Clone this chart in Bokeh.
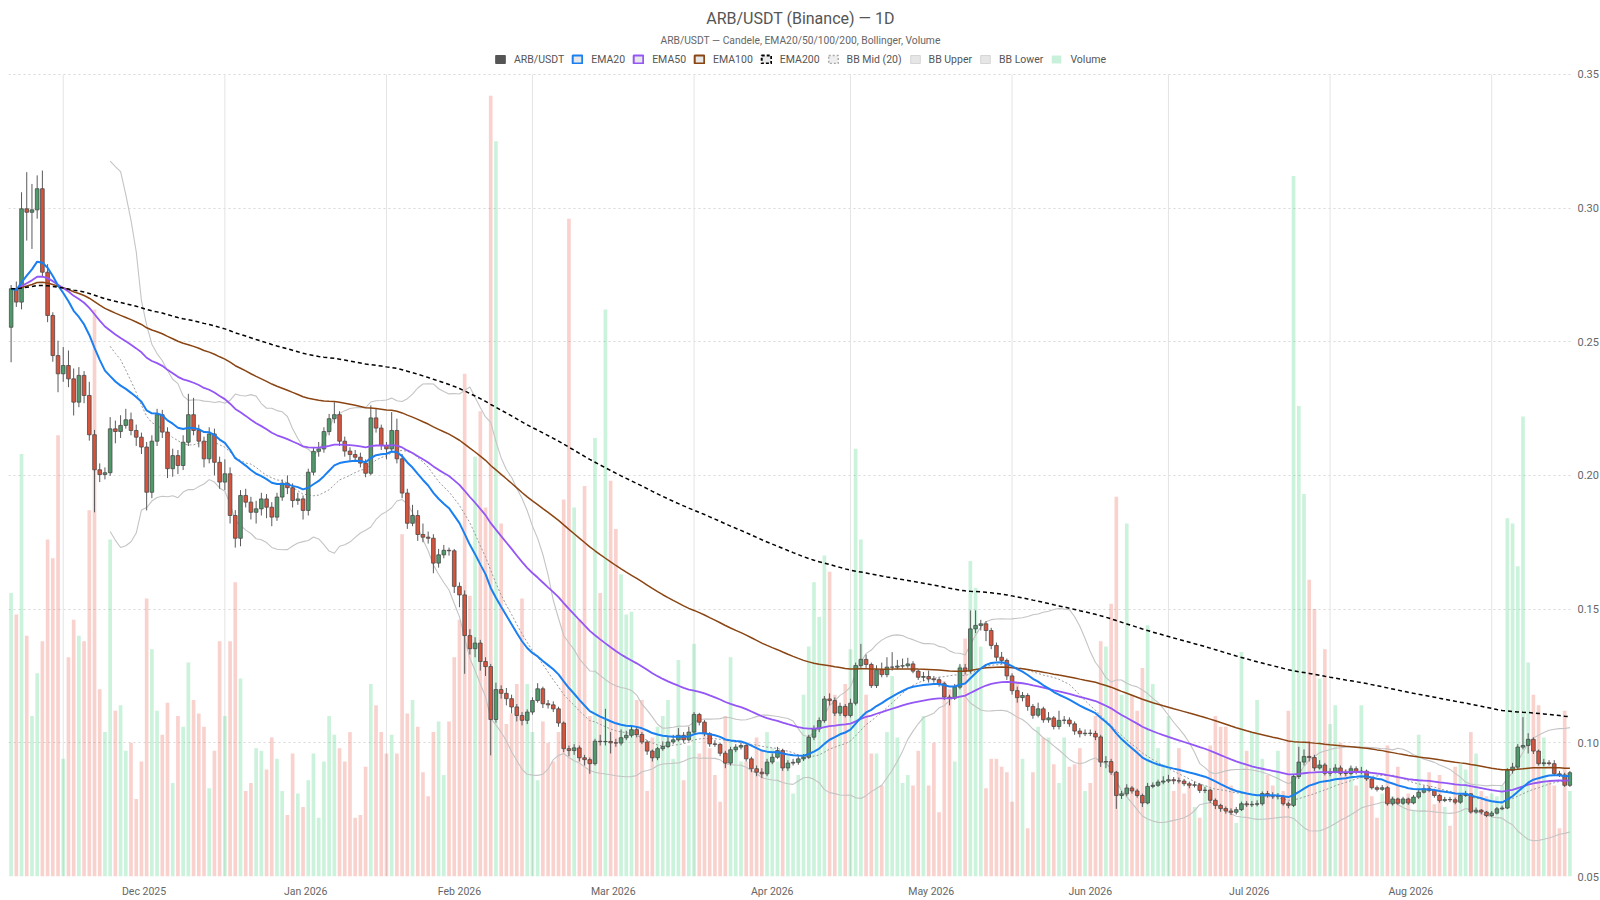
import pandas as pd
from bokeh.plotting import figure
from bokeh.models import (ColumnDataSource, Range1d, FixedTicker, NumeralTickFormatter,
                          DatetimeTickFormatter, Legend, LegendItem, Label)
from bokeh.embed import file_html
from bokeh.resources import INLINE

# ---------------- data ----------------
start_date = "2025-11-21"
title_text = "ARB/USDT (Binance) — 1D"
subtitle_text = "ARB/USDT — Candele, EMA20/50/100/200, Bollinger, Volume"
series_names = ["ARB/USDT", "EMA20", "EMA50", "EMA100", "EMA200",
                "BB Mid (20)", "BB Upper", "BB Lower", "Volume"]
price_ticks = [0.05, 0.10, 0.15, 0.20, 0.25, 0.30, 0.35]

open_ = [
 0.2554,0.2698,0.2648,0.2997,0.2984,0.2993,0.3072,0.2760,0.2598,0.2448,
 0.2380,0.2411,0.2361,0.2274,0.2374,0.2299,0.2152,0.2021,0.2003,0.2010,
 0.2174,0.2164,0.2187,0.2208,0.2168,0.2143,0.2106,0.1937,0.2128,0.2227,
 0.2162,0.2025,0.2074,0.2037,0.2124,0.2227,0.2168,0.2128,0.2062,0.2155,
 0.2049,0.1975,0.2006,0.1850,0.1765,0.1925,0.1900,0.1862,0.1875,0.1912,
 0.1881,0.1844,0.1919,0.1971,0.1954,0.1906,0.1912,0.1869,0.2012,0.2090,
 0.2099,0.2164,0.2212,0.2227,0.2128,0.2091,0.2078,0.2068,0.2046,0.2008,
 0.2215,0.2177,0.2112,0.2099,0.2168,0.2062,0.1934,0.1821,0.1850,0.1779,
 0.1769,0.1765,0.1672,0.1703,0.1720,0.1718,0.1585,0.1553,0.1401,0.1352,
 0.1373,0.1304,0.1285,0.1087,0.1199,0.1185,0.1165,0.1134,0.1102,0.1084,
 0.1115,0.1158,0.1202,0.1146,0.1142,0.1127,0.1074,0.0978,0.0971,0.0981,
 0.0944,0.0937,0.0922,0.1006,0.1004,0.1005,0.1000,0.0999,0.1019,0.1028,
 0.1049,0.1031,0.1003,0.0969,0.0944,0.0978,0.0986,0.1003,0.1011,0.1028,
 0.1011,0.1040,0.1106,0.1077,0.1034,0.0996,0.0994,0.0961,0.0924,0.0974,
 0.0984,0.0990,0.0940,0.0903,0.0890,0.0884,0.0928,0.0946,0.0971,0.0906,
 0.0924,0.0927,0.0940,0.0946,0.1021,0.1052,0.1083,0.1164,0.1158,0.1111,
 0.1136,0.1102,0.1148,0.1289,0.1312,0.1293,0.1214,0.1273,0.1255,0.1283,
 0.1283,0.1287,0.1288,0.1295,0.1268,0.1245,0.1248,0.1239,0.1236,0.1221,
 0.1171,0.1167,0.1208,0.1280,0.1268,0.1426,0.1439,0.1445,0.1420,0.1364,
 0.1320,0.1308,0.1250,0.1195,0.1169,0.1177,0.1136,0.1103,0.1127,0.1086,
 0.1093,0.1061,0.1084,0.1085,0.1071,0.1044,0.1034,0.1036,0.1035,0.1022,
 0.0928,0.0930,0.0890,0.0803,0.0809,0.0831,0.0820,0.0803,0.0775,0.0837,
 0.0841,0.0853,0.0857,0.0862,0.0858,0.0857,0.0847,0.0841,0.0843,0.0822,
 0.0823,0.0785,0.0766,0.0754,0.0745,0.0740,0.0750,0.0772,0.0768,0.0770,
 0.0772,0.0810,0.0803,0.0800,0.0800,0.0772,0.0766,0.0874,0.0928,0.0949,
 0.0945,0.0906,0.0917,0.0886,0.0891,0.0906,0.0886,0.0885,0.0903,0.0890,
 0.0894,0.0865,0.0832,0.0826,0.0832,0.0772,0.0790,0.0774,0.0790,0.0775,
 0.0797,0.0815,0.0828,0.0822,0.0803,0.0784,0.0788,0.0787,0.0778,0.0803,
 0.0809,0.0741,0.0748,0.0741,0.0728,0.0737,0.0753,0.0756,0.0897,0.0909,
 0.0984,0.0990,0.1013,0.0969,0.0922,0.0925,0.0922,0.0884,0.0880,0.0841]

high = [
 0.2712,0.2725,0.3059,0.3134,0.3090,0.3122,0.3140,0.2790,0.2610,0.2504,
 0.2480,0.2467,0.2400,0.2405,0.2390,0.2350,0.2170,0.2045,0.2030,0.2218,
 0.2205,0.2225,0.2249,0.2235,0.2190,0.2160,0.2125,0.2150,0.2249,0.2245,
 0.2180,0.2100,0.2095,0.2150,0.2305,0.2290,0.2190,0.2145,0.2180,0.2175,
 0.2070,0.2060,0.2030,0.1870,0.1945,0.1950,0.1920,0.1905,0.1935,0.1930,
 0.1900,0.1935,0.1985,0.2000,0.1970,0.1935,0.1925,0.2025,0.2105,0.2125,
 0.2180,0.2230,0.2274,0.2240,0.2145,0.2105,0.2095,0.2085,0.2060,0.2262,
 0.2250,0.2190,0.2125,0.2237,0.2212,0.2080,0.1950,0.1890,0.1870,0.1820,
 0.1790,0.1780,0.1725,0.1740,0.1730,0.1725,0.1600,0.1570,0.1425,0.1395,
 0.1385,0.1320,0.1295,0.1225,0.1215,0.1205,0.1180,0.1145,0.1115,0.1125,
 0.1170,0.1223,0.1210,0.1160,0.1155,0.1135,0.1080,0.0990,0.0995,0.0990,
 0.0955,0.0945,0.1015,0.1030,0.1127,0.1040,0.1015,0.1050,0.1045,0.1062,
 0.1060,0.1040,0.1010,0.0975,0.0985,0.1005,0.1025,0.1030,0.1055,0.1040,
 0.1060,0.1115,0.1112,0.1085,0.1040,0.1010,0.1000,0.0970,0.0985,0.0995,
 0.1000,0.0998,0.0948,0.0915,0.0905,0.0940,0.0960,0.0985,0.0978,0.0935,
 0.0940,0.0950,0.0958,0.1030,0.1065,0.1095,0.1175,0.1185,0.1170,0.1150,
 0.1145,0.1165,0.1300,0.1370,0.1330,0.1300,0.1290,0.1300,0.1320,0.1339,
 0.1310,0.1315,0.1318,0.1305,0.1275,0.1265,0.1270,0.1250,0.1245,0.1228,
 0.1180,0.1220,0.1295,0.1295,0.1495,0.1495,0.1460,0.1455,0.1430,0.1375,
 0.1340,0.1315,0.1260,0.1210,0.1190,0.1185,0.1145,0.1150,0.1135,0.1115,
 0.1100,0.1120,0.1100,0.1095,0.1080,0.1055,0.1050,0.1050,0.1045,0.1030,
 0.0950,0.0940,0.0895,0.0820,0.0845,0.0838,0.0828,0.0810,0.0850,0.0852,
 0.0862,0.0875,0.0880,0.0872,0.0870,0.0865,0.0855,0.0855,0.0850,0.0835,
 0.0828,0.0792,0.0772,0.0762,0.0755,0.0760,0.0780,0.0782,0.0782,0.0785,
 0.0818,0.0820,0.0815,0.0812,0.0805,0.0780,0.0882,0.0985,0.0975,0.1005,
 0.0955,0.0935,0.0925,0.0905,0.0920,0.0915,0.0900,0.0915,0.0912,0.0910,
 0.0900,0.0870,0.0840,0.0842,0.0838,0.0798,0.0795,0.0798,0.0795,0.0805,
 0.0825,0.0840,0.0838,0.0828,0.0808,0.0798,0.0798,0.0795,0.0812,0.0820,
 0.0812,0.0758,0.0752,0.0745,0.0745,0.0760,0.0765,0.0905,0.0925,0.0995,
 0.1096,0.1036,0.1020,0.0975,0.0940,0.0935,0.0935,0.0895,0.0888,0.0895]

low = [
 0.2423,0.2630,0.2621,0.2878,0.2847,0.2960,0.2745,0.2573,0.2425,0.2311,
 0.2350,0.2330,0.2224,0.2255,0.2270,0.2130,0.1862,0.1975,0.1985,0.1998,
 0.2120,0.2140,0.2175,0.2150,0.2110,0.2080,0.1869,0.1915,0.2110,0.2140,
 0.1990,0.1995,0.2005,0.2020,0.2110,0.2150,0.2105,0.2030,0.2045,0.2000,
 0.1950,0.1945,0.1820,0.1730,0.1735,0.1880,0.1835,0.1820,0.1850,0.1840,
 0.1810,0.1830,0.1905,0.1930,0.1880,0.1890,0.1835,0.1850,0.2000,0.2070,
 0.2085,0.2150,0.2195,0.2110,0.2070,0.2055,0.2050,0.2030,0.1993,0.2000,
 0.2160,0.2095,0.2060,0.2085,0.2045,0.1915,0.1800,0.1810,0.1755,0.1750,
 0.1745,0.1634,0.1655,0.1690,0.1700,0.1560,0.1507,0.1258,0.1330,0.1320,
 0.1270,0.1250,0.0953,0.1075,0.1165,0.1140,0.1110,0.1080,0.1065,0.1070,
 0.1105,0.1150,0.1130,0.1128,0.1115,0.1060,0.0965,0.0950,0.0955,0.0930,
 0.0915,0.0884,0.0915,0.0990,0.0990,0.0960,0.0985,0.0990,0.1010,0.1020,
 0.1020,0.0995,0.0955,0.0930,0.0935,0.0970,0.0980,0.0995,0.1005,0.1000,
 0.1005,0.1035,0.1065,0.1025,0.0985,0.0985,0.0950,0.0905,0.0915,0.0965,
 0.0975,0.0930,0.0890,0.0875,0.0868,0.0875,0.0920,0.0940,0.0895,0.0895,
 0.0915,0.0918,0.0932,0.0940,0.1010,0.1040,0.1075,0.1140,0.1100,0.1100,
 0.1095,0.1095,0.1140,0.1280,0.1280,0.1205,0.1205,0.1245,0.1245,0.1270,
 0.1275,0.1278,0.1280,0.1260,0.1235,0.1230,0.1225,0.1225,0.1210,0.1160,
 0.1140,0.1160,0.1200,0.1255,0.1260,0.1410,0.1420,0.1380,0.1350,0.1305,
 0.1295,0.1235,0.1180,0.1150,0.1155,0.1120,0.1090,0.1095,0.1075,0.1075,
 0.1050,0.1050,0.1070,0.1060,0.1030,0.1020,0.1025,0.1025,0.1010,0.0910,
 0.0905,0.0880,0.0753,0.0790,0.0800,0.0810,0.0795,0.0760,0.0770,0.0830,
 0.0835,0.0845,0.0850,0.0845,0.0848,0.0838,0.0830,0.0833,0.0812,0.0812,
 0.0775,0.0752,0.0742,0.0735,0.0730,0.0732,0.0745,0.0760,0.0760,0.0762,
 0.0765,0.0795,0.0790,0.0788,0.0765,0.0755,0.0760,0.0865,0.0915,0.0930,
 0.0895,0.0900,0.0878,0.0875,0.0885,0.0878,0.0875,0.0878,0.0882,0.0882,
 0.0858,0.0825,0.0818,0.0820,0.0765,0.0765,0.0768,0.0768,0.0768,0.0770,
 0.0790,0.0810,0.0815,0.0795,0.0776,0.0778,0.0778,0.0770,0.0772,0.0798,
 0.0735,0.0735,0.0732,0.0722,0.0722,0.0732,0.0748,0.0752,0.0885,0.0900,
 0.0975,0.0960,0.0958,0.0915,0.0912,0.0915,0.0878,0.0872,0.0835,0.0835]

close = [
 0.2698,0.2648,0.2997,0.2984,0.2993,0.3072,0.2760,0.2598,0.2448,0.2380,
 0.2411,0.2361,0.2274,0.2374,0.2299,0.2152,0.2021,0.2003,0.2010,0.2174,
 0.2164,0.2187,0.2208,0.2168,0.2143,0.2106,0.1937,0.2128,0.2227,0.2162,
 0.2025,0.2074,0.2037,0.2124,0.2227,0.2168,0.2128,0.2062,0.2155,0.2049,
 0.1975,0.2006,0.1850,0.1765,0.1925,0.1900,0.1862,0.1875,0.1912,0.1881,
 0.1844,0.1919,0.1971,0.1954,0.1906,0.1912,0.1869,0.2012,0.2090,0.2099,
 0.2164,0.2212,0.2227,0.2128,0.2091,0.2078,0.2068,0.2046,0.2008,0.2215,
 0.2177,0.2112,0.2099,0.2168,0.2062,0.1934,0.1821,0.1850,0.1779,0.1769,
 0.1765,0.1672,0.1703,0.1720,0.1718,0.1585,0.1553,0.1401,0.1352,0.1373,
 0.1304,0.1285,0.1087,0.1199,0.1185,0.1165,0.1134,0.1102,0.1084,0.1115,
 0.1158,0.1202,0.1146,0.1142,0.1127,0.1074,0.0978,0.0971,0.0981,0.0944,
 0.0937,0.0922,0.1006,0.1004,0.1005,0.1000,0.0999,0.1019,0.1028,0.1049,
 0.1031,0.1003,0.0969,0.0944,0.0978,0.0986,0.1003,0.1011,0.1028,0.1011,
 0.1040,0.1106,0.1077,0.1034,0.0996,0.0994,0.0961,0.0924,0.0974,0.0984,
 0.0990,0.0940,0.0903,0.0890,0.0884,0.0928,0.0946,0.0971,0.0906,0.0924,
 0.0927,0.0940,0.0946,0.1021,0.1052,0.1083,0.1164,0.1158,0.1111,0.1136,
 0.1102,0.1148,0.1289,0.1312,0.1293,0.1214,0.1273,0.1255,0.1283,0.1283,
 0.1287,0.1288,0.1295,0.1268,0.1245,0.1248,0.1239,0.1236,0.1221,0.1171,
 0.1167,0.1208,0.1280,0.1268,0.1426,0.1439,0.1445,0.1420,0.1364,0.1320,
 0.1308,0.1250,0.1195,0.1169,0.1177,0.1136,0.1103,0.1127,0.1086,0.1093,
 0.1061,0.1084,0.1085,0.1071,0.1044,0.1034,0.1036,0.1035,0.1022,0.0928,
 0.0930,0.0890,0.0803,0.0809,0.0831,0.0820,0.0803,0.0775,0.0837,0.0841,
 0.0853,0.0857,0.0862,0.0858,0.0857,0.0847,0.0841,0.0843,0.0822,0.0823,
 0.0785,0.0766,0.0754,0.0745,0.0740,0.0750,0.0772,0.0768,0.0770,0.0772,
 0.0810,0.0803,0.0800,0.0800,0.0772,0.0766,0.0874,0.0928,0.0949,0.0945,
 0.0906,0.0917,0.0886,0.0891,0.0906,0.0886,0.0885,0.0903,0.0890,0.0894,
 0.0865,0.0832,0.0826,0.0832,0.0772,0.0790,0.0774,0.0790,0.0775,0.0797,
 0.0815,0.0828,0.0822,0.0803,0.0784,0.0788,0.0787,0.0778,0.0803,0.0809,
 0.0741,0.0748,0.0741,0.0728,0.0737,0.0753,0.0756,0.0897,0.0909,0.0984,
 0.0990,0.1013,0.0969,0.0922,0.0925,0.0922,0.0884,0.0880,0.0841,0.0888]

# daily volume, millions of ARB
volume_m = [
 106,98,158,90,60,76,88,126,119,165,
 44,82,96,90,88,137,212,70,54,126,
 62,64,47,50,29,43,104,85,62,53,
 65,35,60,56,80,66,61,56,33,47,
 88,60,88,110,74,32,35,48,47,40,
 52,44,32,23,46,31,26,36,46,22,
 43,60,53,48,43,54,22,23,41,72,
 64,54,46,53,46,128,61,66,56,39,
 30,54,58,38,58,82,96,188,105,157,
 174,138,292,275,132,57,61,72,104,72,
 54,36,58,50,43,54,141,246,138,96,
 146,60,164,106,212,148,130,113,98,99,
 66,66,32,52,56,60,66,44,81,36,
 49,87,46,58,48,38,28,60,82,48,
 43,43,40,52,47,54,48,43,41,45,
 31,38,68,86,110,97,120,114,68,64,
 72,85,160,126,68,46,46,34,54,75,
 52,35,38,34,47,60,34,50,24,73,
 70,43,79,89,118,108,86,33,44,44,
 41,39,28,73,44,18,39,56,52,52,
 42,35,52,41,42,48,32,35,60,88,
 86,102,142,68,132,68,62,78,94,72,
 48,42,60,32,48,31,34,26,22,34,
 49,60,56,56,34,20,84,47,54,66,
 44,38,34,47,32,62,262,176,143,111,
 100,74,85,57,64,50,40,41,34,64,
 39,30,22,31,49,30,41,28,31,25,
 53,31,39,27,38,26,19,41,42,40,
 54,46,32,30,31,30,34,134,132,116,
 172,80,68,64,52,36,34,18,62,32]

# ---------------- derived indicators ----------------
dates = pd.date_range(start_date, periods=len(close), freq="D")
df = pd.DataFrame(dict(date=dates, open=open_, high=high, low=low,
                       close=close, volume=volume_m))
for n in (20, 50, 100, 200):
    df[f"ema{n}"] = df["close"].ewm(span=n, adjust=False).mean()
df["bb_mid"] = df["close"].rolling(20).mean()
sd = df["close"].rolling(20).std()
df["bb_up"] = df["bb_mid"] + 2 * sd
df["bb_lo"] = df["bb_mid"] - 2 * sd
up = df["close"] >= df["open"]
df["body_top"] = df[["open", "close"]].max(axis=1)
df["body_bot"] = df[["open", "close"]].min(axis=1)
df["body_color"] = ["#4f9a6b" if u else "#d6533c" for u in up]
df["vol_color"] = ["#2ecc71" if u else "#e74c3c" for u in up]
src = ColumnDataSource(df)

month_starts = pd.date_range(dates[0] + pd.offsets.MonthBegin(1), dates[-1], freq="MS")
label_ticks = [a + (b - a) / 2 for a, b in zip(month_starts[:-1], month_starts[1:])]
to_ms = lambda t: t.value / 1e6

# ---------------- layout (canvas starts at page 0,0) ----------------
LEFT_PX, FRAME_W, FRAME_H, HEADER_PX = 8, 1564, 876, 73.8
plot_px = FRAME_H - HEADER_PX
y_lo, y_hi = price_ticks[0], price_ticks[-1]
y_top = y_hi + (y_hi - y_lo) * HEADER_PX / plot_px
px_per_unit = plot_px / (y_hi - y_lo)
day = pd.Timedelta(days=1)
x0, x1 = dates[0] - day / 2, dates[-1] + day / 2

p = figure(frame_width=FRAME_W, frame_height=FRAME_H, x_axis_type="datetime",
           x_range=Range1d(x0, x1), y_range=Range1d(y_lo, y_top),
           y_axis_location="right", toolbar_location=None, output_backend="svg",
           min_border_left=LEFT_PX, min_border_right=0, min_border_top=0,
           min_border_bottom=0, title=None)
p.outline_line_color = None
p.background_fill_color = "white"
p.border_fill_color = "white"
p.extra_y_ranges = {"vol": Range1d(0, (y_top - y_lo) * 1000)}

# grids
p.xgrid.visible = False
p.yaxis.ticker = FixedTicker(ticks=price_ticks)
p.ygrid.grid_line_color = "#d9d9d9"
p.ygrid.grid_line_dash = "2 3"
p.segment(x0=month_starts, y0=y_lo, x1=month_starts, y1=y_hi,
          line_color="#e4e4e4", line_width=1)

# axes
for ax in (p.xaxis, p.yaxis):
    ax.axis_line_color = None
    ax.major_tick_line_color = None
    ax.minor_tick_line_color = None
    ax.major_tick_out = 0
    ax.major_tick_in = 0
    ax.minor_tick_out = 0
    ax.minor_tick_in = 0
    ax.major_label_text_font = "Roboto"
    ax.major_label_text_color = "#666666"

p.yaxis.formatter = NumeralTickFormatter(format="0.00")
p.yaxis.major_label_standoff = 5
p.yaxis.major_label_text_font_size = "11px"

p.xaxis.ticker = FixedTicker(ticks=[to_ms(t) for t in label_ticks])
p.xaxis.formatter = DatetimeTickFormatter(months="%b %Y", days="%b %Y", hours="%b %Y")
p.xaxis.major_label_standoff = 8
p.xaxis.major_label_text_font_size = "10.5px"

# volume
bar_w = 0.7 * day
p.vbar(x="date", top="volume", bottom=0, width=bar_w, source=src, y_range_name="vol",
       fill_color="vol_color", fill_alpha=0.25, line_color=None)

# bollinger
p.line("date", "bb_up", source=src, line_color="#c4c4c4", line_width=1.1)
p.line("date", "bb_lo", source=src, line_color="#c4c4c4", line_width=1.1)
p.line("date", "bb_mid", source=src, line_color="#9a9a9a", line_width=1, line_dash="2 2")

# candles
p.segment(x0="date", y0="high", x1="date", y1="low", source=src,
          line_color="#5a5a5a", line_width=1)
p.vbar(x="date", top="body_top", bottom="body_bot", width=bar_w, source=src,
       fill_color="body_color", line_color="#4a4a4a", line_width=0.8)

# EMAs
p.line("date", "ema100", source=src, line_color="#8b4513", line_width=1.5)
p.line("date", "ema50", source=src, line_color="#9456f5", line_width=1.8)
p.line("date", "ema20", source=src, line_color="#1a7ff0", line_width=2)
p.line("date", "ema200", source=src, line_color="#000000", line_width=1.5, line_dash="4 3")

# legend icons: renderers with a single NaN row (nothing drawn in the plot)
icon_styles = [
    dict(fill_color="#555555", line_color="#555555", line_width=1),
    dict(fill_color="#e8e8e8", line_color="#1a7ff0", line_width=2),
    dict(fill_color="#e8e8e8", line_color="#9456f5", line_width=2),
    dict(fill_color="#e8e8e8", line_color="#8b4513", line_width=2),
    dict(fill_color="#e8e8e8", line_color="#000000", line_width=2, line_dash="3 2"),
    dict(fill_color="#eeeeee", line_color="#aaaaaa", line_width=1.5, line_dash="2 2"),
    dict(fill_color="#e6e6e6", line_color="#d6d6d6", line_width=1),
    dict(fill_color="#e6e6e6", line_color="#d6d6d6", line_width=1),
    dict(fill_color="#c9f0da", line_color=None),
]
nan = float("nan")
items = []
for name, st in zip(series_names, icon_styles):
    r = p.quad(left=[nan], right=[nan], top=[nan], bottom=[nan], **st)
    items.append(LegendItem(label=name, renderers=[r]))

legend_top, legend_h = 53.5, 12
legend = Legend(items=items, orientation="horizontal",
                location=(494 - LEFT_PX, FRAME_H - legend_top - legend_h),
                glyph_width=12, glyph_height=10, label_height=legend_h, label_standoff=8,
                spacing=7, padding=0, margin=0, background_fill_alpha=0,
                border_line_alpha=0, label_text_font="Roboto",
                label_text_font_size="10.5px", label_text_color="#555555")
p.add_layout(legend)

# header text
hdr_x = to_ms(x0 + (x1 - x0) * ((800 - LEFT_PX) / FRAME_W))
p.add_layout(Label(x=hdr_x, y=y_top - 17.5 / px_per_unit, text=title_text,
                   text_align="center", text_baseline="middle", text_font="Roboto",
                   text_font_size="16px", text_color="#555555"))
p.add_layout(Label(x=hdr_x, y=y_top - 40 / px_per_unit, text=subtitle_text,
                   text_align="center", text_baseline="middle", text_font="Roboto",
                   text_font_size="10.3px", text_color="#666666"))

with open("out.html", "w") as f:
    f.write(file_html(p, INLINE))
